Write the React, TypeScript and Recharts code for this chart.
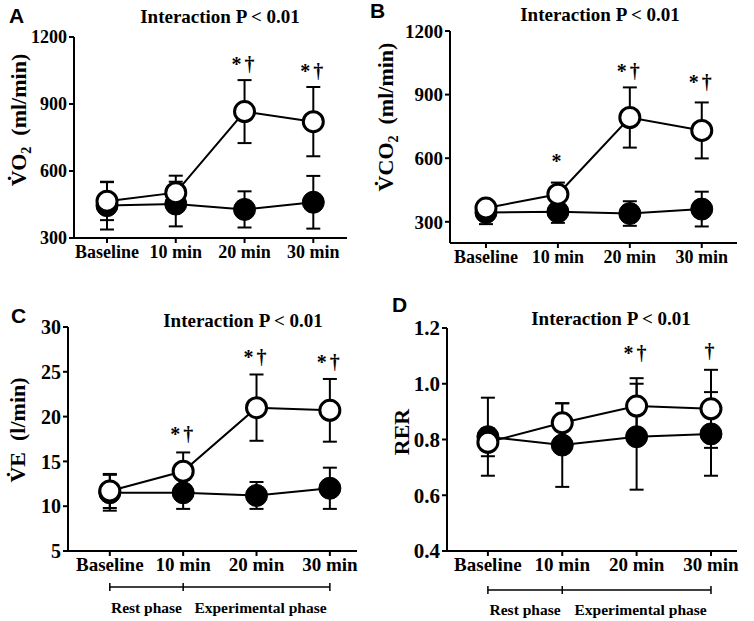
import { ComposedChart, Line, XAxis, YAxis, ErrorBar, Scatter } from "recharts";

const categories = ["Baseline", "10 min", "20 min", "30 min"];

// A: VO2 (ml/min)
const vo2Open = [465, 503, 866, 821];
const vo2OpenSd = [85, 76, 141, 155];
const vo2Filled = [445, 452, 428, 460];
const vo2FilledSd = [107, 100, 81, 118];
const vo2Marks = ["", "", "*†", "*†"];
const vo2MarkAt = [0, 0, 1049, 1015];

// B: VCO2 (ml/min)
const vco2Open = [365, 430, 792, 731];
const vco2OpenSd = [30, 55, 142, 132];
const vco2Filled = [344, 347, 339, 360];
const vco2FilledSd = [55, 52, 58, 82];
const vco2Marks = ["", "*", "*†", "*†"];
const vco2MarkAt = [0, 556, 977, 925];

// C: VE (l/min)
const veOpen = [11.7, 13.9, 21.0, 20.7];
const veOpenSd = [1.9, 2.1, 3.7, 3.5];
const veFilled = [11.5, 11.5, 11.2, 12.0];
const veFilledSd = [2.0, 1.8, 1.5, 2.3];
const veMarks = ["", "*†", "*†", "*†"];
const veMarkAt = [0, 17.3, 25.9, 25.3];

// D: RER
const rerOpen = [0.79, 0.86, 0.92, 0.91];
const rerOpenSd = [0.05, 0.07, 0.1, 0.14];
const rerFilled = [0.81, 0.78, 0.81, 0.82];
const rerFilledSd = [0.14, 0.15, 0.19, 0.15];
const rerMarks = ["", "", "*†", "†"];
const rerMarkAt = [0, 0, 1.086, 1.092];

const SERIF = "'Liberation Serif', 'Times New Roman', serif";
const SANS = "'Liberation Sans', Arial, sans-serif";

type Cfg = {
  left: number;
  top: number;
  w: number;
  h: number;
  mTop: number;
  mRight: number;
  mBottom: number;
  yW: number;
  xH: number;
  xDomain: [number, number];
  yDomain: [number, number];
  yTicks: number[];
  yFont: number;
  xFont: number;
  yFormat?: (v: number) => string;
};

const cfgA: Cfg = {
  left: 0, top: 0, w: 377, h: 300, mTop: 37, mRight: 30, mBottom: 32, yW: 74, xH: 30,
  xDomain: [-0.48, 3.49], yDomain: [300, 1200], yTicks: [300, 600, 900, 1200], yFont: 18, xFont: 18,
};
const cfgB: Cfg = {
  left: 377, top: 0, w: 377, h: 300, mTop: 31, mRight: 17, mBottom: 27, yW: 73, xH: 30,
  xDomain: [-0.5, 3.49], yDomain: [200, 1200], yTicks: [300, 600, 900, 1200], yFont: 19, xFont: 18,
};
const cfgC: Cfg = {
  left: 0, top: 300, w: 377, h: 321, mTop: 27, mRight: 20, mBottom: 40, yW: 68, xH: 30,
  xDomain: [-0.57, 3.37], yDomain: [5, 30], yTicks: [5, 10, 15, 20, 25, 30], yFont: 20, xFont: 19,
};
const cfgD: Cfg = {
  left: 377, top: 300, w: 377, h: 321, mTop: 28, mRight: 17, mBottom: 40, yW: 70, xH: 30,
  xDomain: [-0.55, 3.35], yDomain: [0.4, 1.2], yTicks: [0.4, 0.6, 0.8, 1.0, 1.2], yFont: 21, xFont: 19,
  yFormat: (v) => v.toFixed(1),
};

// page x of a category centre, same mapping the x axis uses
function xAt(cfg: Cfg, i: number) {
  const [d0, d1] = cfg.xDomain;
  const plotW = cfg.w - cfg.yW - cfg.mRight;
  return cfg.left + cfg.yW + ((i - d0) / (d1 - d0)) * plotW;
}

function MarkShape(props: any) {
  const { cx, cy, payload } = props;
  if (!payload.text) return null;
  return (
    <text x={cx} y={cy} textAnchor="middle" fontFamily={SERIF} fontWeight="bold" fontSize={20} letterSpacing={3} fill="#000">
      {payload.text}
    </text>
  );
}

function Panel({
  cfg, open, openSd, filled, filledSd, marks, markAt,
}: {
  cfg: Cfg; open: number[]; openSd: number[]; filled: number[]; filledSd: number[];
  marks: string[]; markAt: number[];
}) {
  const rows = categories.map((c, i) => ({
    x: i, open: open[i], openSd: openSd[i], filled: filled[i], filledSd: filledSd[i],
  }));
  const markRows = marks
    .map((t, i) => ({ x: i, y: markAt[i], text: t }))
    .filter((m) => m.text);
  const tickStyle = (size: number) => ({ fill: "#000", fontSize: size, fontFamily: SERIF, fontWeight: "bold" });
  return (
    <div style={{ position: "absolute", left: cfg.left, top: cfg.top }}>
      <ComposedChart
        width={cfg.w}
        height={cfg.h}
        data={rows}
        margin={{ top: cfg.mTop, right: cfg.mRight, bottom: cfg.mBottom, left: 0 }}
      >
        <XAxis
          type="number"
          dataKey="x"
          domain={cfg.xDomain}
          ticks={[0, 1, 2, 3]}
          interval={0}
          allowDataOverflow
          height={cfg.xH}
          tickFormatter={(v) => categories[v] ?? ""}
          tick={tickStyle(cfg.xFont)}
          axisLine={{ stroke: "#000", strokeWidth: 2 }}
          tickLine={{ stroke: "#000", strokeWidth: 2 }}
          tickSize={5}
          tickMargin={2}
        />
        <YAxis
          type="number"
          domain={cfg.yDomain}
          ticks={cfg.yTicks}
          interval={0}
          allowDataOverflow
          width={cfg.yW}
          tickFormatter={cfg.yFormat ?? ((v) => String(v))}
          tick={tickStyle(cfg.yFont)}
          axisLine={{ stroke: "#000", strokeWidth: 2 }}
          tickLine={{ stroke: "#000", strokeWidth: 2 }}
          tickSize={5}
          tickMargin={2}
        />
        <Line
          dataKey="filled"
          stroke="#000"
          strokeWidth={2}
          dot={{ r: 11, fill: "#000", stroke: "#000", strokeWidth: 1 }}
          isAnimationActive={false}
        >
          <ErrorBar dataKey="filledSd" direction="y" width={7} stroke="#000" strokeWidth={2} />
        </Line>
        <Line
          dataKey="open"
          stroke="#000"
          strokeWidth={2}
          dot={{ r: 10, fill: "#fff", stroke: "#000", strokeWidth: 3 }}
          isAnimationActive={false}
        >
          <ErrorBar dataKey="openSd" direction="y" width={7} stroke="#000" strokeWidth={2} />
        </Line>
        <Scatter data={markRows} dataKey="y" shape={MarkShape} isAnimationActive={false} />
      </ComposedChart>
    </div>
  );
}

function PhaseBracket({ cfg, y, textY }: { cfg: Cfg; y: number; textY: number }) {
  const x0 = xAt(cfg, 0);
  const x1 = xAt(cfg, 1);
  const x3 = xAt(cfg, 3);
  return (
    <g>
      <line x1={x0} y1={y} x2={x3} y2={y} stroke="#000" strokeWidth={1.5} />
      {[x0, x1, x3].map((x) => (
        <line key={x} x1={x} y1={y - 4} x2={x} y2={y + 4} stroke="#000" strokeWidth={1.5} />
      ))}
      <text x={(x0 + x1) / 2} y={textY} textAnchor="middle" fontFamily={SERIF} fontWeight="bold" fontSize={15.5}>
        Rest phase
      </text>
      <text x={(x1 + x3) / 2 + 4} y={textY} textAnchor="middle" fontFamily={SERIF} fontWeight="bold" fontSize={15.5}>
        Experimental phase
      </text>
    </g>
  );
}

const title = "Interaction P < 0.01";

export default function App() {
  return (
    <div style={{ position: "absolute", left: 0, top: 0, width: 754, height: 621, background: "#fff" }}>
      <Panel cfg={cfgA} open={vo2Open} openSd={vo2OpenSd} filled={vo2Filled} filledSd={vo2FilledSd} marks={vo2Marks} markAt={vo2MarkAt} />
      <Panel cfg={cfgB} open={vco2Open} openSd={vco2OpenSd} filled={vco2Filled} filledSd={vco2FilledSd} marks={vco2Marks} markAt={vco2MarkAt} />
      <Panel cfg={cfgC} open={veOpen} openSd={veOpenSd} filled={veFilled} filledSd={veFilledSd} marks={veMarks} markAt={veMarkAt} />
      <Panel cfg={cfgD} open={rerOpen} openSd={rerOpenSd} filled={rerFilled} filledSd={rerFilledSd} marks={rerMarks} markAt={rerMarkAt} />
      <svg width={754} height={621} style={{ position: "absolute", left: 0, top: 0, pointerEvents: "none" }}>
        <g fontFamily={SANS} fontWeight="bold" fontSize={21} fill="#000">
          <text x={9} y={23}>A</text>
          <text x={370} y={18}>B</text>
          <text x={11} y={323}>C</text>
          <text x={392} y={312}>D</text>
        </g>
        <g fontFamily={SERIF} fontWeight="bold" fontSize={19} fill="#000" textAnchor="middle">
          <text x={220} y={23}>{title}</text>
          <text x={600} y={21}>{title}</text>
          <text x={243} y={327}>{title}</text>
          <text x={611} y={325}>{title}</text>
        </g>
        <g fontFamily={SERIF} fontWeight="bold" fontSize={22} fill="#000" textAnchor="middle">
          <text transform="translate(26,120) rotate(-90)">
            V̇O<tspan fontSize={14} dy={5}>2</tspan>
            <tspan dy={-5}>{"\u00a0\u00a0(ml/min)"}</tspan>
          </text>
          <text transform="translate(393,117) rotate(-90)">
            V̇CO<tspan fontSize={14} dy={5}>2</tspan>
            <tspan dy={-5}>{"\u00a0\u00a0(ml/min)"}</tspan>
          </text>
          <text transform="translate(25,430) rotate(-90)">{"V̇E\u00a0\u00a0(l/min)"}</text>
          <text transform="translate(409,432) rotate(-90)">RER</text>
        </g>
        <PhaseBracket cfg={cfgC} y={587} textY={613} />
        <PhaseBracket cfg={cfgD} y={590} textY={615} />
      </svg>
    </div>
  );
}
